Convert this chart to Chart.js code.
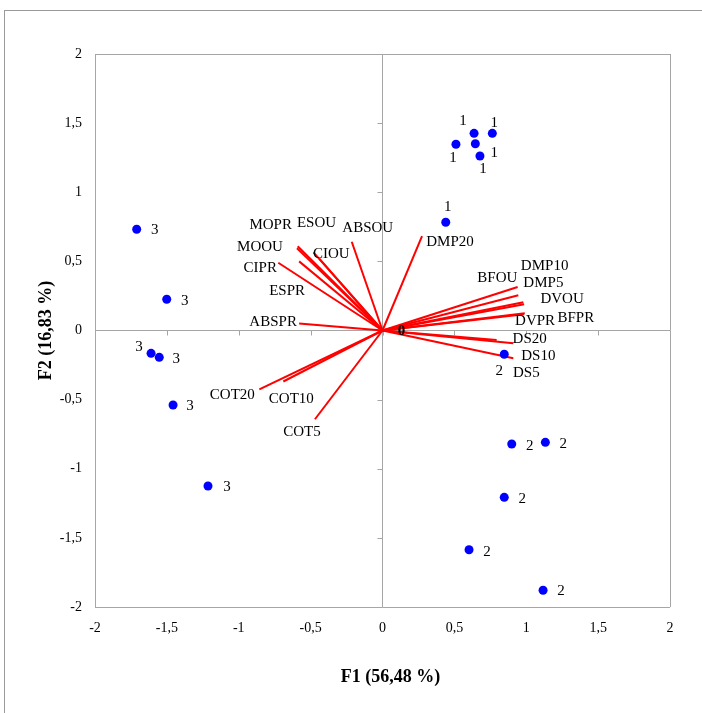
<!DOCTYPE html>
<html>
<head>
<meta charset="utf-8">
<script src="https://cdn.jsdelivr.net/npm/chart.js@4/dist/chart.umd.min.js"></script>
<style>
  body { margin: 0; background: #fff; }
  canvas { display: block; }
</style>
</head>
<body>
<canvas id="biplot" width="702" height="713"></canvas>
<script>
// observations (F1, F2) and their group labels
const obsNames = ['1', '1', '1', '1', '1', '1', '2', '2', '2', '2', '2', '2', '3', '3', '3', '3', '3', '3'];
const obsX = [0.637, 0.764, 0.511, 0.646, 0.678, 0.44, 0.899, 1.133, 0.847, 0.602, 1.117, 0.847, -1.71, -1.501, -1.61, -1.553, -1.457, -1.214];
const obsY = [1.426, 1.426, 1.347, 1.351, 1.262, 0.783, -0.821, -0.809, -1.207, -1.586, -1.879, -0.172, 0.732, 0.226, -0.165, -0.194, -0.539, -1.125];

// the "0" observation sits on the origin
const centreName = '0';
const centreX = [0];
const centreY = [0];

// variable vectors
const varNames = ['ABSOU', 'MOPR', 'MOOU', 'ESOU', 'CIOU', 'ESPR', 'CIPR', 'ABSPR',
  'DMP20', 'DMP10', 'BFOU', 'DMP5', 'DVOU', 'BFPR', 'DVPR', 'DS20', 'DS10', 'DS5',
  'COT20', 'COT10', 'COT5'];
const varX = [-0.214, -0.59, -0.595, -0.48, -0.44, -0.58, -0.725, -0.58,
  0.275, 0.94, 0.945, 0.98, 0.985, 0.99, 0.985, 0.794, 0.91, 0.91,
  -0.857, -0.69, -0.47];
const varY = [0.642, 0.61, 0.595, 0.565, 0.52, 0.5, 0.49, 0.05,
  0.683, 0.315, 0.255, 0.205, 0.19, 0.125, 0.118, -0.069, -0.093, -0.2,
  -0.426, -0.369, -0.642];

const tickValues = [-2, -1.5, -1, -0.5, 0, 0.5, 1, 1.5, 2];
const tickLabels = ['-2', '-1,5', '-1', '-0,5', '0', '0,5', '1', '1,5', '2'];

// label placement (pixel offsets from the mark)
const obsLabelDx = [-11, 2, -3, 19, 3, 2, 18, 18, 18, 18, 18, -5, 18, 18, -12, 17, 17, 19];
const obsLabelDy = [-12, -10, 14, 9, 13, -15, 2, 2, 2, 2, 1, 17, 1, 2, -6, 2, 1, 1];
const varLabelDx = [16, -27, -37, 3, 12, -12, -18, -26, 28, 27, -21, 20, 38, 51, 11, 33, 25, 13, -27, 8, -13];
const varLabelDy = [-14, -21, -1, -29, -5, 30, 5, -2, 6, -21, -17, -19, -5, 5, 7, -1, 13, 15, 6, 18, 13];

const FONT = '"Liberation Serif", "Times New Roman", serif';
const GREY = '#a6a6a6';

const obsPoints = obsX.map((x, i) => ({ x, y: obsY[i] }));

// one little line dataset per vector, from the origin to its end
const vectorSets = varNames.map((name, i) => ({
  label: name,
  data: [{ x: 0, y: 0 }, { x: varX[i], y: varY[i] }],
  showLine: true,
  borderColor: '#ff0000',
  borderWidth: 2,
  pointRadius: 0,
  fill: false,
}));

// frame, zero axes with their little tick marks, axis titles, outer border
const decorations = {
  id: 'decorations',
  beforeDatasetsDraw(chart) {
    const { ctx, scales: { x, y } } = chart;
    const x0 = x.getPixelForValue(0);
    const y0 = y.getPixelForValue(0);
    ctx.save();
    ctx.strokeStyle = GREY;
    ctx.lineWidth = 1;
    ctx.beginPath();
    tickValues.forEach(v => {
      const px = Math.round(x.getPixelForValue(v)) + 0.5;
      ctx.moveTo(px, y0);
      ctx.lineTo(px, y0 + 5);
      const py = Math.round(y.getPixelForValue(v)) + 0.5;
      ctx.moveTo(x0 - 5, py);
      ctx.lineTo(x0, py);
    });
    ctx.stroke();
    ctx.restore();
  },
  afterDraw(chart) {
    const { ctx, chartArea } = chart;
    ctx.save();
    ctx.strokeStyle = '#9a9a9a';
    ctx.lineWidth = 1;
    ctx.strokeRect(4.5, 10.5, 800, 800);

    ctx.fillStyle = '#000';
    ctx.font = 'bold 18px ' + FONT;
    ctx.textAlign = 'center';
    ctx.textBaseline = 'middle';
    ctx.fillText('F1 (56,48 %)', (chartArea.left + chartArea.right) / 2 + 8, 677);
    ctx.translate(46, (chartArea.top + chartArea.bottom) / 2);
    ctx.rotate(-Math.PI / 2);
    ctx.fillText('F2 (16,83 %)', 0, 0);
    ctx.restore();
  },
};

// text next to points and vector ends
const markLabels = {
  id: 'markLabels',
  afterDatasetsDraw(chart) {
    const { ctx, scales: { x, y } } = chart;
    ctx.save();
    ctx.fillStyle = '#000';
    ctx.font = '15px ' + FONT;
    ctx.textAlign = 'center';
    ctx.textBaseline = 'middle';
    obsNames.forEach((name, i) => {
      ctx.fillText(name, x.getPixelForValue(obsX[i]) + obsLabelDx[i], y.getPixelForValue(obsY[i]) + obsLabelDy[i]);
    });
    ctx.font = 'bold 15px ' + FONT;
    ctx.fillText(centreName, x.getPixelForValue(centreX[0]) + 19, y.getPixelForValue(centreY[0]) + 1);
    ctx.font = '15px ' + FONT;
    varNames.forEach((name, i) => {
      ctx.fillText(name, x.getPixelForValue(varX[i]) + varLabelDx[i], y.getPixelForValue(varY[i]) + varLabelDy[i]);
    });
    ctx.restore();
  },
};

const gridColor = c => (c.tick && [-2, 0, 2].includes(c.tick.value)) ? GREY : 'rgba(0,0,0,0)';

new Chart(document.getElementById('biplot').getContext('2d'), {
  type: 'scatter',
  data: {
    datasets: [
      {
        label: 'observations',
        data: obsPoints,
        backgroundColor: '#0000ff',
        borderWidth: 0,
        pointRadius: 4.5,
      },
      {
        label: 'centre',
        data: centreX.map((x, i) => ({ x, y: centreY[i] })),
        pointRadius: 0,
      },
      ...vectorSets,
    ],
  },
  options: {
    responsive: false,
    animation: false,
    layout: { padding: { top: 54, right: 32, left: 0, bottom: 0 } },
    plugins: { legend: { display: false }, tooltip: { enabled: false } },
    scales: {
      x: {
        type: 'linear',
        min: -2,
        max: 2,
        afterBuildTicks: s => { s.ticks = tickValues.map(v => ({ value: v })); },
        afterFit: s => { s.height = 106; },
        ticks: {
          callback: (v) => tickLabels[tickValues.indexOf(v)],
          color: '#000',
          font: { family: FONT, size: 14 },
          padding: 13,
          maxRotation: 0,
        },
        grid: { color: gridColor, drawTicks: false, lineWidth: 1 },
        border: { display: false },
      },
      y: {
        type: 'linear',
        min: -2,
        max: 2,
        afterBuildTicks: s => { s.ticks = tickValues.map(v => ({ value: v })); },
        afterFit: s => { s.width = 95; },
        ticks: {
          callback: (v) => tickLabels[tickValues.indexOf(v)],
          color: '#000',
          font: { family: FONT, size: 14 },
          padding: 13,
        },
        grid: { color: gridColor, drawTicks: false, lineWidth: 1 },
        border: { display: false },
      },
    },
  },
  plugins: [decorations, markLabels],
});
</script>
</body>
</html>
